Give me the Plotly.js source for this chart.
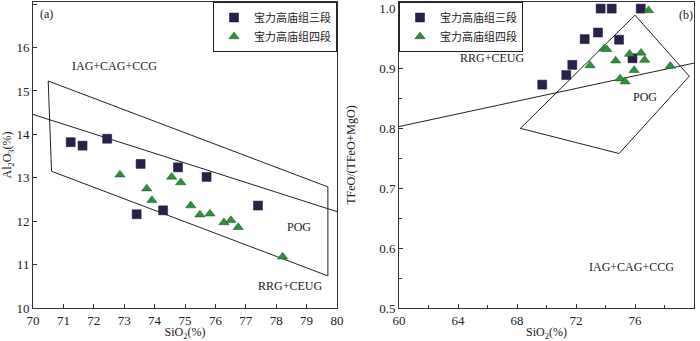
<!DOCTYPE html>
<html>
<head>
<meta charset="utf-8">
<script src="https://cdn.plot.ly/plotly-3.0.1.min.js"></script>
<style>
  html, body { margin: 0; padding: 0; background: #fff; }
  #chart { width: 700px; height: 341px; }
</style>
</head>
<body>
<div id="chart"></div>
<script>
// (a) SiO2 vs Al2O3
const aSqX = [71.24, 71.63, 72.44, 73.54, 74.77, 75.71, 73.41, 74.28, 77.4];
const aSqY = [13.82, 13.74, 13.9, 13.32, 13.24, 13.02, 12.16, 12.25, 12.36];
const aTriX = [72.86, 73.74, 73.91, 74.56, 74.86, 75.19, 75.49, 75.82, 76.28, 76.51, 76.75, 78.21];
const aTriY = [13.07, 12.75, 12.48, 13.02, 12.89, 12.36, 12.15, 12.17, 11.97, 12.02, 11.86, 11.18];
const aLineX = [70, 80];
const aLineY = [14.46, 12.22];
const aPolyX = [70.5, 79.7, 79.7, 70.61, 70.5];
const aPolyY = [15.23, 12.79, 10.74, 13.15, 15.23];

// (b) SiO2 vs TFeO/(TFeO+MgO)
const bSqX = [73.67, 74.42, 76.39, 73.49, 72.59, 74.92, 71.75, 71.34, 69.71, 75.83];
const bSqY = [1.0, 1.0, 1.0, 0.96, 0.949, 0.948, 0.906, 0.889, 0.873, 0.917];
const bTriX = [76.92, 73.9, 74.08, 72.95, 74.69, 75.63, 76.41, 76.65, 75.94, 74.99, 75.33, 78.39];
const bTriY = [0.997, 0.933, 0.932, 0.905, 0.913, 0.924, 0.926, 0.914, 0.897, 0.883, 0.878, 0.904];
const bLineX = [60, 80];
const bLineY = [0.803, 0.909];
const bPolyX = [76.0, 79.68, 74.92, 68.23, 76.0];
const bPolyY = [0.989, 0.887, 0.758, 0.8, 0.989];

const seriesNames = ["宝力高庙组三段", "宝力高庙组四段"];

const FONT = "'Liberation Serif', 'Times New Roman', 'Noto Sans CJK SC', serif";
const sqMarker = { symbol: "square", size: 9, color: "#2b2148", line: { color: "#1a1530", width: 0.5 } };
const triMarker = { symbol: "triangle-up", size: 9, color: "#2f8f3c", line: { color: "#1c4a22", width: 0.5 } };
const boundary = { color: "#222", width: 1 };

function pts(x, y, xa, ya, name, marker, legend) {
  return { x, y, xaxis: xa, yaxis: ya, type: "scatter", mode: "markers", name, marker, legend, hoverinfo: "x+y" };
}
function line(x, y, xa, ya) {
  return { x, y, xaxis: xa, yaxis: ya, type: "scatter", mode: "lines", line: boundary, showlegend: false, hoverinfo: "skip" };
}

const traces = [
  line(aLineX, aLineY, "x", "y"),
  line(aPolyX, aPolyY, "x", "y"),
  line(bLineX, bLineY, "x2", "y2"),
  line(bPolyX, bPolyY, "x2", "y2"),
  pts(aSqX, aSqY, "x", "y", seriesNames[0], sqMarker, "legend"),
  pts(aTriX, aTriY, "x", "y", seriesNames[1], triMarker, "legend"),
  pts(bSqX, bSqY, "x2", "y2", seriesNames[0], sqMarker, "legend2"),
  pts(bTriX, bTriY, "x2", "y2", seriesNames[1], triMarker, "legend2"),
];

const axisBase = {
  showline: true, mirror: true, linecolor: "#333", linewidth: 1,
  ticks: "inside", ticklen: 4, tickcolor: "#333",
  showgrid: false, zeroline: false,
  tickfont: { family: FONT, size: 13, color: "#222" },
};
const titleFont = { family: FONT, size: 12, color: "#222" };

function label(text, x, y, xref, yref) {
  return { text, x, y, xref, yref, showarrow: false, font: { family: FONT, size: 12, color: "#222" } };
}

const legendBase = {
  bordercolor: "#222", borderwidth: 1, bgcolor: "#fff",
  font: { family: FONT, size: 11, color: "#222" },
  y: 1, yanchor: "top", tracegroupgap: 0, itemwidth: 30,
};

const layout = {
  width: 700, height: 341,
  margin: { l: 0, r: 0, t: 2, b: 33 },
  paper_bgcolor: "#fff", plot_bgcolor: "#fff",
  xaxis: Object.assign({}, axisBase, {
    domain: [33 / 700, 337 / 700], range: [70, 80], dtick: 1,
    title: { text: "SiO<sub>2</sub>(%)", font: titleFont, standoff: 4 },
  }),
  yaxis: Object.assign({}, axisBase, {
    anchor: "x", range: [10, 17.05], dtick: 1,
    title: { text: "Al<sub>2</sub>O<sub>3</sub>(%)", font: titleFont, standoff: 6 },
  }),
  xaxis2: Object.assign({}, axisBase, {
    domain: [399 / 700, 694 / 700], range: [60, 80], dtick: 4, anchor: "y2",
    minor: { dtick: 2, ticks: "inside", ticklen: 3, tickcolor: "#333" },
    title: { text: "SiO<sub>2</sub>(%)", font: titleFont, standoff: 4 },
  }),
  yaxis2: Object.assign({}, axisBase, {
    anchor: "x2", range: [0.5, 1.011], dtick: 0.1, tickformat: ".1f",
    minor: { dtick: 0.05, ticks: "inside", ticklen: 3, tickcolor: "#333" },
    title: { text: "TFeO/(TFeO+MgO)", font: titleFont, standoff: 20 },
  }),
  legend: Object.assign({}, legendBase, { x: 337 / 700, xanchor: "right" }),
  legend2: Object.assign({}, legendBase, { x: 399 / 700, xanchor: "left" }),
  annotations: [
    label("(a)", 70.45, 16.77, "x", "y"),
    label("IAG+CAG+CCG", 72.69, 15.57, "x", "y"),
    label("POG", 78.75, 11.86, "x", "y"),
    label("RRG+CEUG", 78.45, 10.51, "x", "y"),
    label("(b)", 79.46, 0.989, "x2", "y2"),
    label("RRG+CEUG", 66.3, 0.917, "x2", "y2"),
    label("POG", 76.69, 0.852, "x2", "y2"),
    label("IAG+CAG+CCG", 75.78, 0.568, "x2", "y2"),
  ],
};

Plotly.newPlot("chart", traces, layout, { displayModeBar: false });
</script>
</body>
</html>
